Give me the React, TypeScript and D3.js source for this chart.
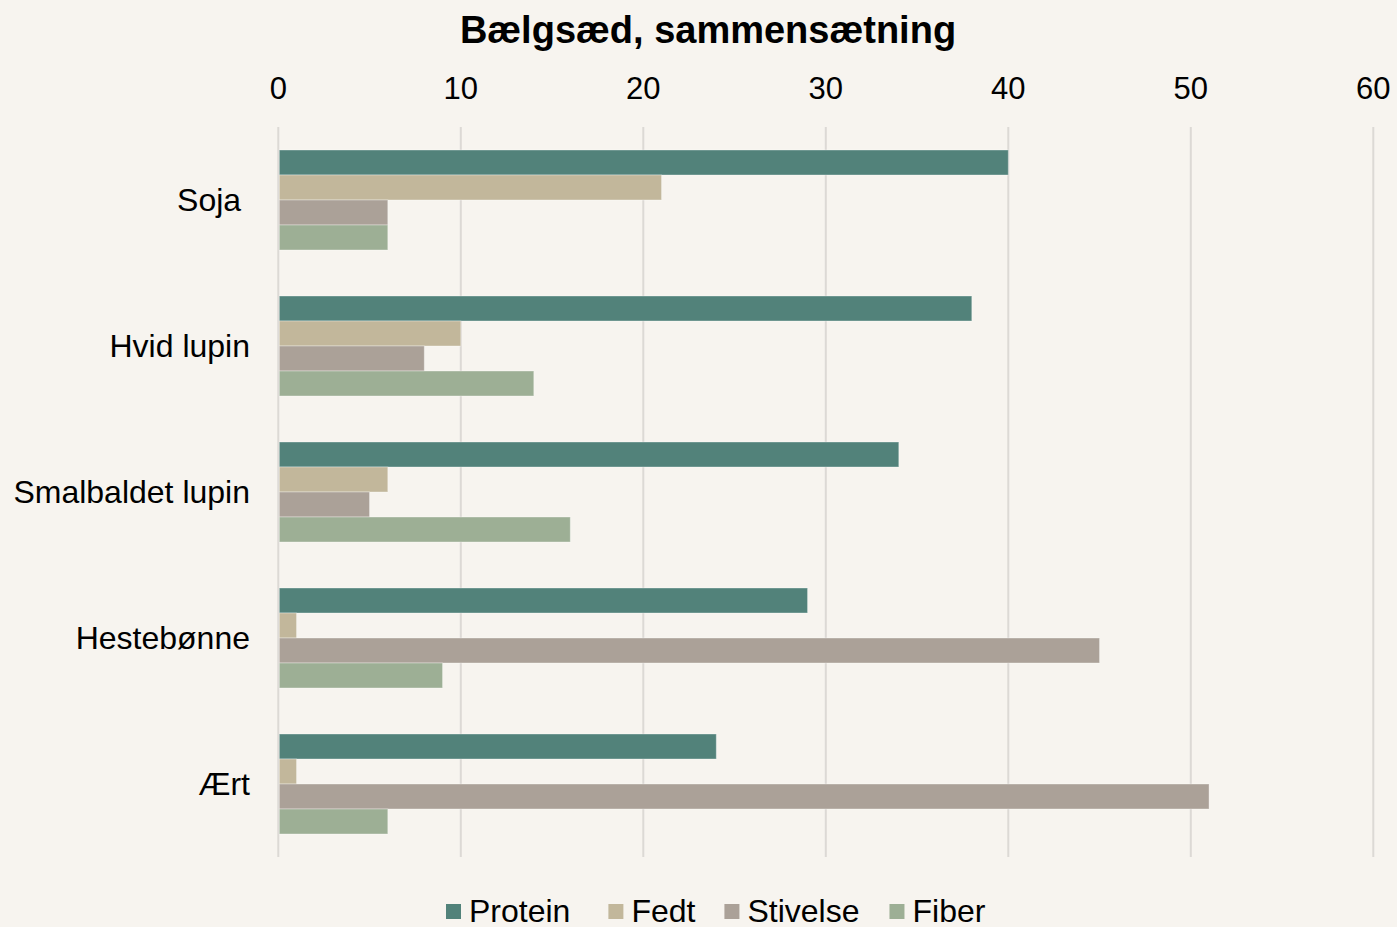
import React from "react";
import * as d3 from "d3";

const categories = ["Soja ", "Hvid lupin", "Smalbaldet lupin", "Hestebønne", "Ært"];
const seriesNames = ["Protein", "Fedt", "Stivelse", "Fiber"];
const protein = [40, 38, 34, 29, 24];
const fedt = [21, 10, 6, 1, 1];
const stivelse = [6, 8, 5, 45, 51];
const fiber = [6, 14, 16, 9, 6];
const colors = ["#52827a", "#c2b79b", "#aba198", "#9daf95"];
const xTicks = [0, 10, 20, 30, 40, 50, 60];
const title = "Bælgsæd, sammensætning";

const seriesValues = [protein, fedt, stivelse, fiber];

const W = 1397;
const H = 927;
const FONT = "'Liberation Sans', Arial, sans-serif";

function measure(text: string, font: string): number {
  const c = document.createElement("canvas").getContext("2d");
  if (!c) return text.length * 16;
  c.font = font;
  return c.measureText(text).width;
}

export default function App() {
  const x = d3.scaleLinear().domain([0, 60]).range([278.3, 1373.3]);
  const y0 = d3.scaleBand<string>().domain(categories).range([127, 857]).paddingInner(46 / 146).paddingOuter(23 / 146);
  const y1 = d3.scaleBand<string>().domain(seriesNames).range([0, y0.bandwidth()]);

  // legend layout
  const legendFont = `32px ${FONT}`;
  const sq = 15;
  const gapSq = 8;
  const gaps = [38, 29, 30];
  const widths = seriesNames.map((s) => measure(s, legendFont));
  let cursor = 446;
  const legendItems = seriesNames.map((s, i) => {
    const item = { name: s, x: cursor, color: colors[i] };
    cursor += sq + gapSq + widths[i] + (gaps[i] ?? 0);
    return item;
  });

  return (
    <svg width={W} height={H} style={{ display: "block", position: "absolute", left: 0, top: 0 }} fontFamily={FONT}>
      <rect x={0} y={0} width={W} height={H} fill="#f7f4ef" />
      <text x={708} y={43} textAnchor="middle" fontSize={38} fontWeight="bold" fill="#000">
        {title}
      </text>
      {xTicks.map((t) => (
        <g key={t}>
          <line x1={x(t)} x2={x(t)} y1={127} y2={857} stroke="#dcd9d5" strokeWidth={2} />
          <text x={x(t)} y={99} textAnchor="middle" fontSize={31} fill="#000">
            {t}
          </text>
        </g>
      ))}
      {categories.map((c, ci) => (
        <g key={c}>
          <text
            x={250}
            y={(y0(c) as number) + y0.bandwidth() / 2 + 11}
            textAnchor="end"
            fontSize={32}
            fill="#000"
            style={{ whiteSpace: "pre" }}
          >
            {c}
          </text>
          {seriesNames.map((s, si) => (
            <rect
              key={s}
              x={x(0) + 1}
              y={(y0(c) as number) + (y1(s) as number)}
              width={x(seriesValues[si][ci]) - x(0) - 1}
              height={y1.bandwidth()}
              fill={colors[si]}
              stroke="#ffffff"
              strokeOpacity={0.35}
              strokeWidth={1}
            />
          ))}
        </g>
      ))}
      {legendItems.map((it) => (
        <g key={it.name}>
          <rect x={it.x} y={904} width={sq} height={sq} fill={it.color} />
          <text x={it.x + sq + gapSq} y={922} fontSize={32} fill="#000">
            {it.name}
          </text>
        </g>
      ))}
    </svg>
  );
}
